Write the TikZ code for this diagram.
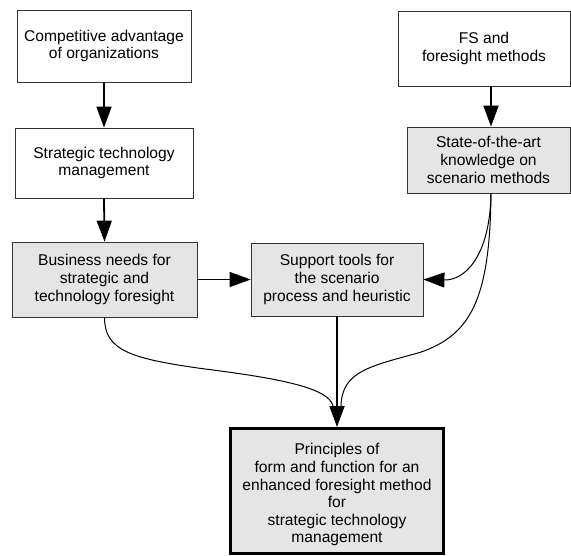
\documentclass[tikz,border=0pt]{standalone}
\usepackage{fontspec}
\setmainfont{Liberation Sans}
\usetikzlibrary{arrows.meta,calc}
\begin{document}
\begin{tikzpicture}[x=1pt,y=1pt,
 box/.style={draw=black!80, line width=0.8pt, align=center, inner sep=0pt, font=\fontsize{15.6}{17.6}\selectfont},
 graybox/.style={box, fill=black!10},
 head/.style={-{Triangle[length=21pt,width=15pt]}},
 arr/.style={line width=1.8pt, head},
 thinarr/.style={line width=1pt, head},
 curve/.style={line width=1pt},
]
\fill[white] (0,0) rectangle (571,-555);
\useasboundingbox (0,0) rectangle (571,-555);
\node[box, minimum width=174pt, minimum height=72pt] (comp) at (104,-46) {Competitive advantage\\of organizations};
\node[box, minimum width=178pt, minimum height=70pt] (stm) at (104,-163) {Strategic technology\\management};
\node[box, minimum width=172pt, minimum height=75pt] (fs) at (484,-48.5) {FS and\\foresight methods};
\node[graybox, minimum width=163pt, minimum height=66pt] (state) at (488.5,-160) {State-of-the-art\\knowledge on\\scenario methods};
\node[graybox, minimum width=185pt, minimum height=75pt] (bus) at (104.5,-279.5) {Business needs for\\strategic and\\technology foresight};
\node[graybox, minimum width=172pt, minimum height=73pt] (sup) at (337,-279.5) {Support tools for\\the scenario\\process and heuristic};
\node[graybox, draw=black, line width=3pt, minimum width=213pt, minimum height=125pt] (pr) at (337,-491) {\rule{0pt}{19pt}Principles of\\form and function for an\\enhanced foresight method\\for\\strategic technology\\management};

\draw[arr] (comp.south) -- (stm.north);
\draw[arr] (stm.south) -- (bus.north);
\draw[arr] ([xshift=7pt]fs.south) -- ([xshift=2.5pt]state.north);
\draw[thinarr] (bus.east) -- (sup.west);
\draw[arr] (sup.south) -- (pr.north);
\draw[thinarr] ([xshift=2.5pt]state.south) .. controls +(-1,-62) and +(42,-1) .. (sup.east);
\draw[curve] ([xshift=2.5pt]state.south) .. controls +(-1,-107) and +(50,17) .. ++(-71,-159) coordinate (m1)
  .. controls +(-50,-14) and +(1,35) .. ([xshift=4pt,yshift=21pt]pr.north);
\draw[curve] (bus.south) .. controls +(0,-33) and +(-70,10) .. ++(96,-51) coordinate (m2)
  .. controls +(80,-10) and +(-4,18) .. ([xshift=-4pt,yshift=21pt]pr.north);
\end{tikzpicture}
\end{document}
